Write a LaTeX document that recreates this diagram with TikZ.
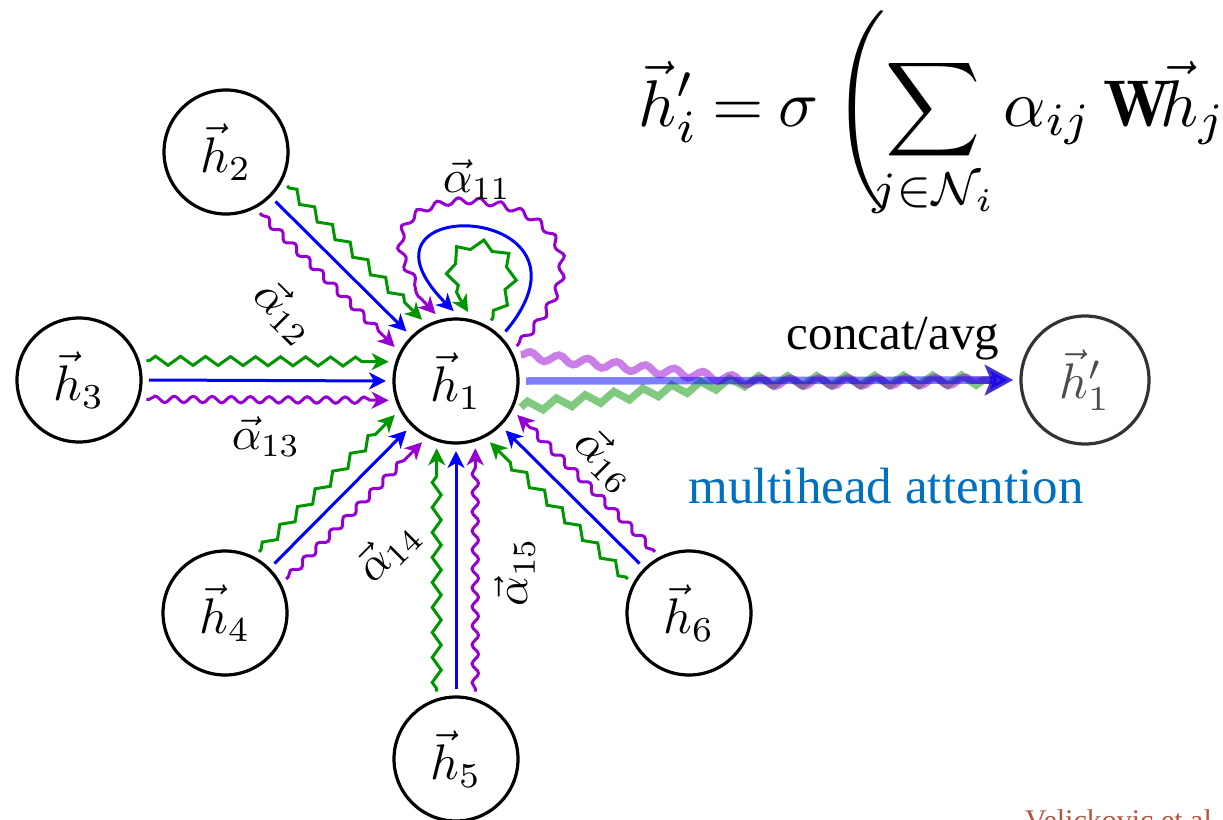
\documentclass[tikz,border=0pt]{standalone}
\usepackage{amsmath}
\usepackage{fontspec}
\newfontfamily\tnr{Liberation Serif}
\usetikzlibrary{decorations.pathmorphing,arrows.meta}
\definecolor{gG}{RGB}{0,150,0}
\definecolor{gB}{RGB}{0,0,255}
\definecolor{gP}{RGB}{150,0,210}
\definecolor{mhblue}{RGB}{0,112,192}
\definecolor{citered}{RGB}{176,85,59}
\begin{document}
\begin{tikzpicture}[x=1pt,y=1pt,
  vnode/.style={circle,draw=black,line width=3.2pt,minimum size=24.8pt,inner sep=0pt,scale=5},
  tip/.style={-{Stealth[length=17pt,width=17pt,inset=5pt]}},
  eblue/.style={tip,line width=3pt,color=gB},
  egreen/.style={tip,line width=3pt,color=gG,decorate,
    decoration={zigzag,segment length=25pt,amplitude=4.5pt,pre length=3pt,post length=17pt}},
  epurple/.style={tip,line width=3pt,color=gP,decorate,
    decoration={snake,segment length=19pt,amplitude=3.2pt,pre length=3pt,post length=17pt}},
  alab/.style={inner sep=0pt,scale=4.6},
  otip/.style={-{Stealth[length=28pt,width=30pt,inset=6pt]}},
  oblue/.style={otip,line width=7.5pt,color=gB,opacity=0.5},
  ogreen/.style={otip,line width=7.5pt,color=gG,opacity=0.5,decorate,
    decoration={zigzag,segment length=29pt,amplitude=5pt,post length=28pt}},
  opurple/.style={otip,line width=7.5pt,color=gP,opacity=0.5,decorate,
    decoration={snake,segment length=29pt,amplitude=4pt,post length=28pt}},
]
\clip (0,0) rectangle (1223,-819);
\useasboundingbox (0,0) rectangle (1223,-819);

% nodes
\node[vnode] (h1) at (456,-381) {$\vec{h}_1$};
\node[vnode] (h2) at (226,-152) {$\vec{h}_2$};
\node[vnode] (h3) at (79,-380) {$\vec{h}_3$};
\node[vnode] (h4) at (225,-613) {$\vec{h}_4$};
\node[vnode] (h5) at (456,-759) {$\vec{h}_5$};
\node[vnode] (h6) at (689,-613) {$\vec{h}_6$};
\node[vnode,draw=black!80,text=black!70,minimum size=25.6pt] (h1p) at (1085,-380) {$\vec{h}'_1$};

% neighbour edges
\foreach \n/\p in {h2/135,h3/180,h4/225,h5/270,h6/315}{
  \pgfmathtruncatemacro\sa{\p+180}
  \pgfmathtruncatemacro\ga{\p+196}
  \pgfmathtruncatemacro\gb{\p-16}
  \pgfmathtruncatemacro\pa{\p+164}
  \pgfmathtruncatemacro\pb{\p+16}
  \draw[eblue] (\n.\sa) -- (h1.\p);
  \draw[egreen] (\n.\ga) -- (h1.\gb);
  \draw[epurple] (\n.\pa) -- (h1.\pb);
}

% self loops
\draw[epurple,decoration={segment length=21pt}] (h1.30) .. controls +(45:240) and +(135:230) .. (h1.107);
\draw[eblue] (h1.45) .. controls +(50:170) and +(135:170) .. (h1.92);
\draw[egreen] (h1.60) .. controls +(50:120) and +(125:120) .. (h1.80);

% output
\coordinate (merge) at (750,-381);
\draw[ogreen] (h1.-22) -- (merge) -- (h1p.west);
\draw[opurple] (h1.22) -- (merge) -- (h1p.west);
\draw[oblue] (h1.east) -- (h1p.west);

% labels
\node[alab] (a11) at (477,-180) {$\vec{\alpha}_{11}$};
\node[alab,rotate=-45] (a12) at (285,-312) {$\vec{\alpha}_{12}$};
\node[alab] (a13) at (266,-437) {$\vec{\alpha}_{13}$};
\node[alab,rotate=45] (a14) at (388,-551) {$\vec{\alpha}_{14}$};
\node[alab,rotate=90] (a15) at (515,-572) {$\vec{\alpha}_{15}$};
\node[alab,rotate=-45] (a16) at (606,-460) {$\vec{\alpha}_{16}$};

\node[anchor=base,font=\tnr\fontsize{49}{58}\selectfont,inner sep=0pt] (cat) at (893,-349) {concat/avg};
\node[anchor=base,font=\tnr\fontsize{51}{60}\selectfont,text=mhblue,inner sep=0pt] (mh) at (886,-503) {multihead attention};
\node[anchor=base west,inner sep=0pt,scale=6.6] (eq) at (637,-126)
  {\thickmuskip=4mu$\displaystyle \vec{h}'_i=\sigma\;\Biggl(\sum_{\hbox to 0pt{\hss$\scriptstyle j\in\mathcal{N}_i$\hss}}\,\alpha_{ij}\,\mathbf{W}\!\vec{h}_j\Biggr)$};
\node[anchor=base west,inner sep=0pt,font=\tnr\fontsize{30}{36}\selectfont,text=citered] (cite) at (1025,-830) {Velickovic et al.};
\end{tikzpicture}
\end{document}
